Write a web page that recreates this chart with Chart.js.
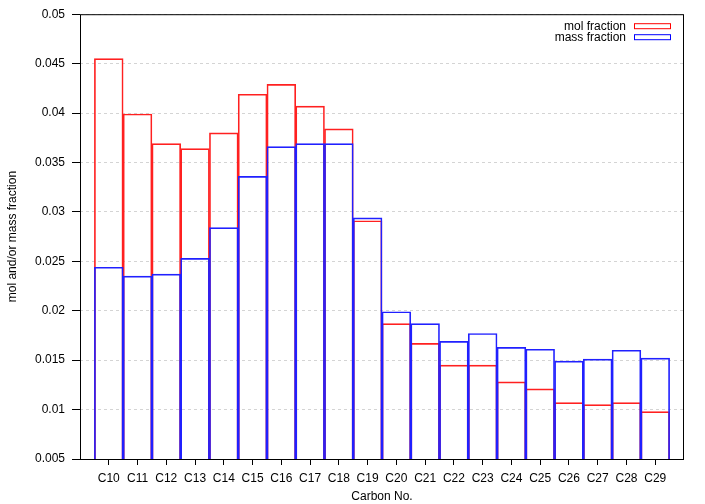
<!DOCTYPE html>
<html>
<head>
<meta charset="utf-8">
<script src="https://cdn.jsdelivr.net/npm/chart.js@4/dist/chart.umd.min.js"></script>
<style>
  html, body { margin: 0; padding: 0; background: #fff; }
  #wrap { width: 705px; height: 504px; }
</style>
</head>
<body>
<div id="wrap"><canvas id="chart" width="705" height="504"></canvas></div>
<script>
// carbon numbers C10..C29
const carbonNo = [10, 11, 12, 13, 14, 15, 16, 17, 18, 19, 20, 21, 22, 23, 24, 25, 26, 27, 28, 29];
const molFraction = [0.0455, 0.0399, 0.0369, 0.0364, 0.0380, 0.0419, 0.0429, 0.0407, 0.0384, 0.0291,
                     0.0187, 0.0167, 0.0145, 0.0145, 0.0128, 0.0121, 0.0107, 0.0105, 0.0107, 0.0098];
const massFraction = [0.0244, 0.0235, 0.0237, 0.0253, 0.0284, 0.0336, 0.0366, 0.0369, 0.0369, 0.0294,
                      0.0199, 0.0187, 0.0169, 0.0177, 0.0163, 0.0161, 0.0149, 0.0151, 0.0160, 0.0152];
const yTicks = [0.005, 0.01, 0.015, 0.02, 0.025, 0.03, 0.035, 0.04, 0.045, 0.05];

const FONT = "'Liberation Sans', Arial, sans-serif";
Chart.defaults.font.family = FONT;
Chart.defaults.font.size = 12;
Chart.defaults.color = "#000";

// frame + gnuplot style key inside the plot
const framePlugin = {
    id: "frame",
    afterDatasetsDraw(chart) {
        const { ctx, chartArea: a } = chart;
        ctx.save();
        ctx.strokeStyle = "#000";
        ctx.lineWidth = 1;
        ctx.strokeRect(a.left + 0.5, a.top + 0.5, a.right - a.left - 1, a.bottom - a.top);

        const key = [["mol fraction", "#ff0000"], ["mass fraction", "#0000ff"]];
        ctx.font = "12px " + FONT;
        ctx.textAlign = "right";
        ctx.textBaseline = "middle";
        key.forEach((k, i) => {
            const y = a.top + 12 + i * 11;
            ctx.fillStyle = "#000";
            ctx.fillText(k[0], a.right - 58, y);
            ctx.strokeStyle = k[1];
            ctx.strokeRect(a.right - 49.5, y - 2.5, 36, 5);
        });
        ctx.restore();
    }
};

new Chart(document.getElementById("chart"), {
    type: "bar",
    data: {
        datasets: [
            {
                label: "mol fraction",
                data: carbonNo.map((c, i) => ({ x: c, y: molFraction[i] })),
                backgroundColor: "rgba(0,0,0,0)",
                borderColor: "#ff2020",
                borderWidth: 1,
                borderSkipped: false,
                order: 1
            },
            {
                label: "mass fraction",
                data: carbonNo.map((c, i) => ({ x: c, y: massFraction[i] })),
                backgroundColor: "rgba(0,0,0,0)",
                borderColor: "#2020ff",
                borderWidth: 1,
                borderSkipped: false,
                order: 0
            }
        ]
    },
    options: {
        responsive: false,
        animation: false,
        layout: { padding: { top: 12, right: 21, left: 0, bottom: 0 } },
        datasets: { bar: { grouped: false, categoryPercentage: 1, barPercentage: 1 } },
        plugins: { legend: { display: false }, tooltip: { enabled: false } },
        scales: {
            x: {
                type: "linear",
                min: 9,
                max: 30,
                offset: false,
                ticks: {
                    stepSize: 1,
                    autoSkip: false,
                    maxRotation: 0,
                    padding: 6,
                    callback: v => (v >= 10 && v <= 29) ? "C" + v : ""
                },
                grid: {
                    offset: false,
                    drawOnChartArea: false,
                    tickLength: 6,
                    tickColor: c => (c.tick && c.tick.value >= 10 && c.tick.value <= 29) ? "#000" : "rgba(0,0,0,0)"
                },
                border: { display: false },
                title: { display: true, text: "Carbon No.", padding: { top: 2, bottom: 0 } },
                afterFit: s => { s.height = 45; }
            },
            y: {
                min: 0.005,
                max: 0.05,
                afterBuildTicks: s => { s.ticks = yTicks.map(v => ({ value: v })); },
                ticks: { padding: 7, callback: v => String(+v.toFixed(3)) },
                grid: {
                    color: "#d4d4d4",
                    tickColor: "#000",
                    tickLength: 8,
                    tickBorderDash: []
                },
                border: { display: false, dash: [3, 3] },
                title: { display: true, text: "mol and/or mass fraction", padding: { top: 5, bottom: 0 } },
                afterFit: s => { s.width = 80; }
            }
        }
    },
    plugins: [framePlugin]
});
</script>
</body>
</html>
